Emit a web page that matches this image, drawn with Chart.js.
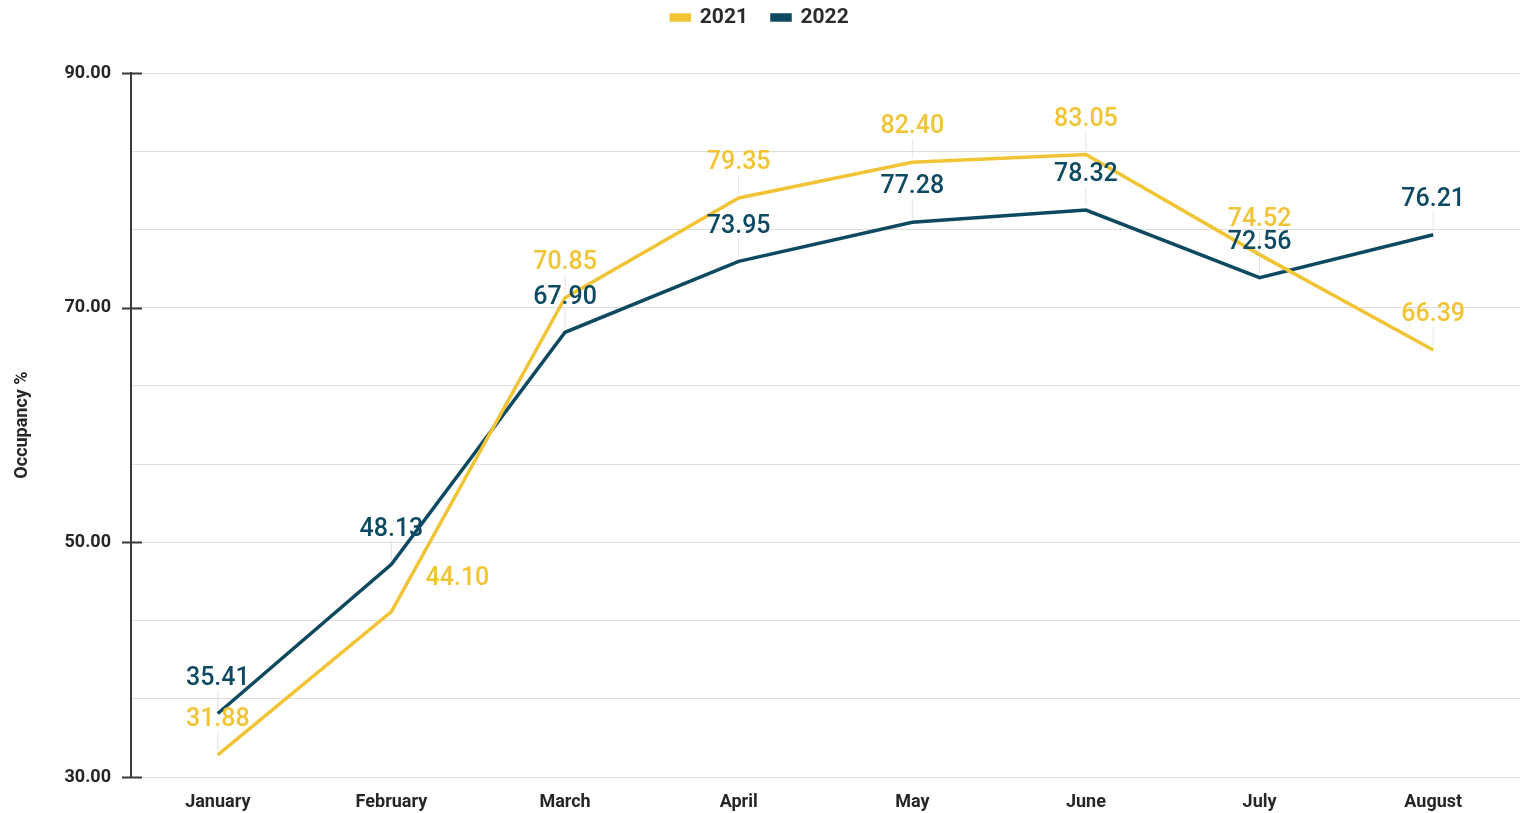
<!DOCTYPE html>
<html>
<head>
<meta charset="utf-8">
<script src="https://cdn.jsdelivr.net/npm/chart.js@4.4.1/dist/chart.umd.min.js"></script>
<style>
  html, body { margin: 0; padding: 0; background: #ffffff; }
  #wrap { width: 1524px; height: 813px; position: relative; }
</style>
</head>
<body>
<div id="wrap"><canvas id="chart"></canvas></div>
<script>
const months = ["January", "February", "March", "April", "May", "June", "July", "August"];
const occ2021 = [31.88, 44.10, 70.85, 79.35, 82.40, 83.05, 74.52, 66.39];
const occ2022 = [35.41, 48.13, 67.90, 73.95, 77.28, 78.32, 72.56, 76.21];
const yMin = 30;
const yMax = 90;
const yLabelled = [30, 50, 70, 90];

const YELLOW = "#f1c435";
const NAVY = "#0d4a62";


// extra room under the legend before the plot starts
const legendGap = {
  id: "legendGap",
  beforeInit(chart) {
    const fit = chart.legend.fit;
    chart.legend.fit = function () {
      fit.call(this);
      this.height = 90;
    };
  }
};


// values written above each point, with a faint leader line down to it
const valueLabels = {
  id: "valueLabels",
  afterDatasetsDraw(chart) {
    const ctx = chart.ctx;
    ctx.save();
    ctx.font = "500 25px Roboto";
    ctx.textAlign = "center";
    ctx.textBaseline = "middle";

    chart.data.datasets.forEach((ds, di) => {
      const meta = chart.getDatasetMeta(di);
      meta.data.forEach((pt, i) => {
        let x = pt.x;
        let y = pt.y - 35;

        // February 2021 would sit on the 2022 line, push it aside
        if (di === 0 && i === 1) {
          x += 66;
          y = pt.y - 33;
        }

        if (x === pt.x) {
          ctx.strokeStyle = "rgba(200, 200, 200, 0.5)";
          ctx.lineWidth = 1;
          ctx.beginPath();
          ctx.moveTo(pt.x, pt.y - 4);
          ctx.lineTo(pt.x, y + 12);
          ctx.stroke();
        }

        ctx.fillStyle = ds.borderColor;
        ctx.fillText(ds.data[i].toFixed(2), x, y);
      });
    });

    ctx.restore();
  }
};


// short dark marks across the y axis at the labelled values
const axisMarks = {
  id: "axisMarks",
  afterDraw(chart) {
    const ctx = chart.ctx;
    const y = chart.scales.y;
    const left = chart.chartArea.left;
    ctx.save();
    ctx.strokeStyle = "#3a3a3a";
    ctx.lineWidth = 2;
    yLabelled.forEach(v => {
      const py = Math.round(y.getPixelForValue(v)) + 0.5;
      ctx.beginPath();
      ctx.moveTo(left - 9, py);
      ctx.lineTo(left + 11, py);
      ctx.stroke();
    });
    ctx.restore();
  }
};


new Chart(document.getElementById("chart"), {
  type: "line",
  data: {
    labels: months,
    datasets: [
      {
        label: "2021",
        data: occ2021,
        borderColor: YELLOW,
        backgroundColor: YELLOW,
        borderWidth: 3.5,
        pointRadius: 0,
        tension: 0
      },
      {
        label: "2022",
        data: occ2022,
        borderColor: NAVY,
        backgroundColor: NAVY,
        borderWidth: 3.5,
        pointRadius: 0,
        tension: 0
      }
    ]
  },
  options: {
    responsive: true,
    maintainAspectRatio: false,
    animation: false,
    layout: {
      padding: { left: 0, right: 4, top: -17, bottom: 0 }
    },
    plugins: {
      legend: {
        position: "top",
        labels: {
          color: "#2b2b2b",
          font: { family: "Roboto", size: 21, weight: "bold" },
          boxWidth: 18,
          boxHeight: 5,
          padding: 24
        }
      },
      tooltip: { enabled: false }
    },
    scales: {
      x: {
        offset: true,
        afterFit(scale) {
          scale.height = 36;
        },
        grid: { display: false },
        border: { display: false },
        ticks: {
          color: "#262626",
          padding: 7,
          font: { family: "Roboto", size: 18, weight: "bold" }
        }
      },
      y: {
        min: yMin,
        max: yMax,
        afterBuildTicks(scale) {
          const ticks = [];
          for (let i = 0; i <= 9; i++) {
            ticks.push({ value: yMin + (yMax - yMin) * i / 9 });
          }
          scale.ticks = ticks;
        },
        afterFit(scale) {
          scale.width = 131;
        },
        grid: {
          color: "#dedede",
          lineWidth: 1,
          drawTicks: false
        },
        border: { display: true, color: "#3a3a3a", width: 2 },
        title: {
          display: true,
          text: "Occupancy %",
          color: "#262626",
          padding: { top: 12, bottom: 4 },
          font: { family: "Roboto", size: 18, weight: "bold" }
        },
        ticks: {
          color: "#262626",
          padding: 20,
          font: { family: "Roboto", size: 18, weight: "bold" },
          callback(value) {
            const hit = yLabelled.some(v => Math.abs(v - value) < 0.01);
            return hit ? value.toFixed(2) : "";
          }
        }
      }
    }
  },
  plugins: [legendGap, valueLabels, axisMarks]
});
</script>
</body>
</html>
